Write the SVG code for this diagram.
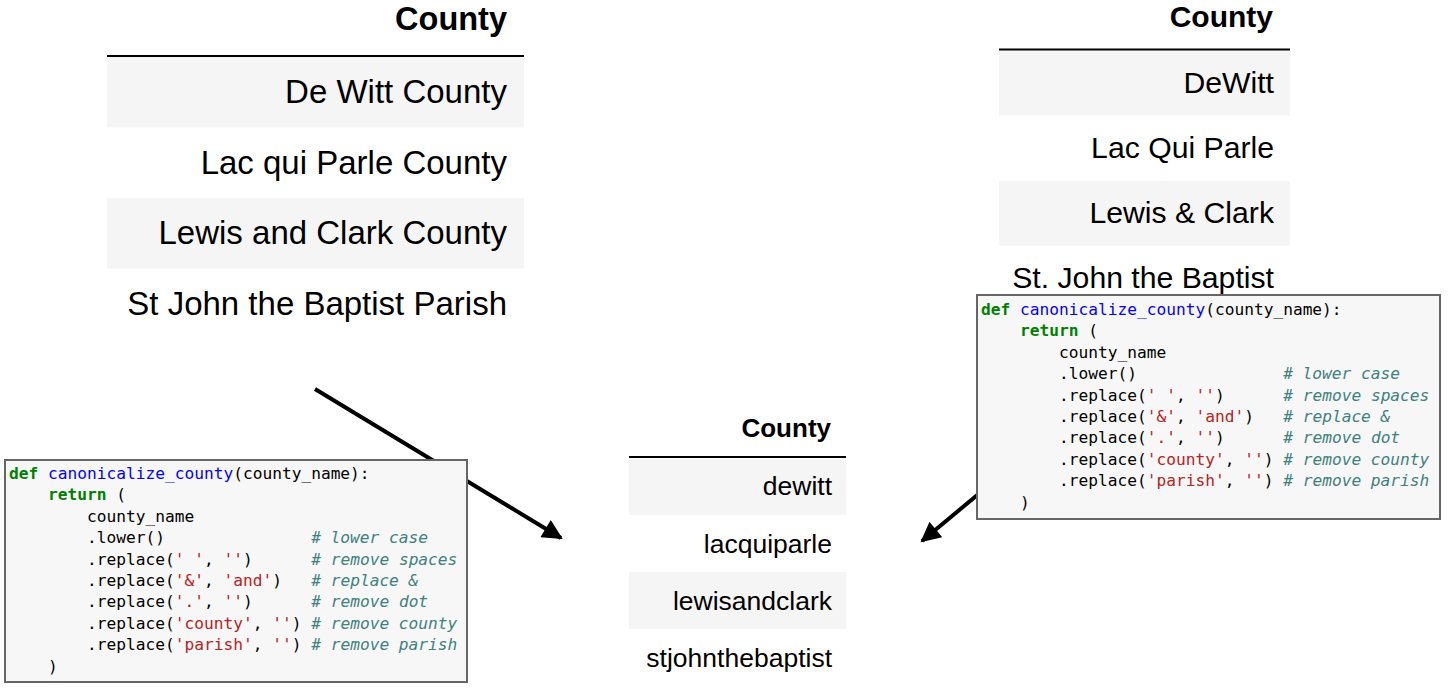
<svg xmlns="http://www.w3.org/2000/svg" width="1448" height="688" viewBox="0 0 1448 688">
<defs>
<style>
.t{font-family:"Liberation Sans",Arial,sans-serif;fill:#000;text-anchor:end}
.b{font-weight:bold}
.row{fill:#f5f5f5}
.hl{stroke:#000;stroke-width:2}
.code{font-family:"DejaVu Sans Mono","Liberation Mono",monospace;font-size:16.2px;fill:#000}
.kw{fill:#008000;font-weight:bold}
.fn{fill:#0000ff}
.st{fill:#ba2121}
.cm{fill:#408080;font-style:italic}
.box{fill:#f7f7f7;stroke:#666;stroke-width:2}
.arr{stroke:#000;stroke-width:4;fill:none}
</style>
<marker id="ah" viewBox="0 0 10 10" refX="9" refY="5" markerWidth="5.5" markerHeight="5" orient="auto" markerUnits="strokeWidth">
<path d="M0,0 L10,5 L0,10 z" fill="#000"/>
</marker>
</defs>
<rect width="1448" height="688" fill="#fff"/>

<g id="connectors">
<line class="arr" x1="315" y1="389" x2="561" y2="538" marker-end="url(#ah)"/>
<line class="arr" x1="1005" y1="472" x2="922" y2="541" marker-end="url(#ah)"/>
</g>

<g id="table-original">
<text class="t b" x="507" y="30" font-size="32.5">County</text>
<rect class="row" x="107" y="57" width="417" height="70.5"/>
<rect class="row" x="107" y="198" width="417" height="70.5"/>
<line class="hl" x1="107" y1="56" x2="524" y2="56"/>
<text class="t" x="507" y="103" font-size="33">De Witt County</text>
<text class="t" x="507" y="174" font-size="33">Lac qui Parle County</text>
<text class="t" x="507" y="244" font-size="33">Lewis and Clark County</text>
<text class="t" x="507" y="315" font-size="33">St John the Baptist Parish</text>
</g>

<g id="table-other">
<text class="t b" x="1273" y="27" font-size="30">County</text>
<rect class="row" x="999" y="51" width="291" height="64.5"/>
<rect class="row" x="999" y="181" width="291" height="64.5"/>
<line class="hl" x1="999" y1="49.5" x2="1290" y2="49.5"/>
<text class="t" x="1274" y="93" font-size="30.2">DeWitt</text>
<text class="t" x="1274" y="158" font-size="30.2">Lac Qui Parle</text>
<text class="t" x="1274" y="223" font-size="30.2">Lewis &amp; Clark</text>
<text class="t" x="1274" y="288" font-size="30.2">St. John the Baptist</text>
</g>

<g id="table-canonical">
<text class="t b" x="831" y="437" font-size="26">County</text>
<rect class="row" x="629" y="459" width="217" height="56"/>
<rect class="row" x="629" y="572" width="217" height="57"/>
<line class="hl" x1="629" y1="457" x2="846" y2="457"/>
<text class="t" x="832" y="495" font-size="26.5">dewitt</text>
<text class="t" x="832" y="553" font-size="26.5">lacquiparle</text>
<text class="t" x="832" y="610" font-size="26.5">lewisandclark</text>
<text class="t" x="832" y="667" font-size="26.5">stjohnthebaptist</text>
</g>

<g id="code-left">
<rect class="box" x="5" y="460" width="462" height="222"/>
<text class="code" xml:space="preserve" x="9" y="479"><tspan class="kw">def</tspan> <tspan class="fn">canonicalize_county</tspan>(county_name):</text>
<text class="code" xml:space="preserve" x="9" y="500.4">    <tspan class="kw">return</tspan> (</text>
<text class="code" xml:space="preserve" x="9" y="521.8">        county_name</text>
<text class="code" xml:space="preserve" x="9" y="543.2">        .lower()               <tspan class="cm"># lower case</tspan></text>
<text class="code" xml:space="preserve" x="9" y="564.6">        .replace(<tspan class="st">' '</tspan>, <tspan class="st">''</tspan>)      <tspan class="cm"># remove spaces</tspan></text>
<text class="code" xml:space="preserve" x="9" y="586">        .replace(<tspan class="st">'&amp;'</tspan>, <tspan class="st">'and'</tspan>)   <tspan class="cm"># replace &amp;</tspan></text>
<text class="code" xml:space="preserve" x="9" y="607.4">        .replace(<tspan class="st">'.'</tspan>, <tspan class="st">''</tspan>)      <tspan class="cm"># remove dot</tspan></text>
<text class="code" xml:space="preserve" x="9" y="628.8">        .replace(<tspan class="st">'county'</tspan>, <tspan class="st">''</tspan>) <tspan class="cm"># remove county</tspan></text>
<text class="code" xml:space="preserve" x="9" y="650.2">        .replace(<tspan class="st">'parish'</tspan>, <tspan class="st">''</tspan>) <tspan class="cm"># remove parish</tspan></text>
<text class="code" xml:space="preserve" x="9" y="671.6">    )</text>
</g>

<g id="code-right">
<rect class="box" x="977" y="295" width="463" height="224"/>
<text class="code" xml:space="preserve" x="981" y="315"><tspan class="kw">def</tspan> <tspan class="fn">canonicalize_county</tspan>(county_name):</text>
<text class="code" xml:space="preserve" x="981" y="336.4">    <tspan class="kw">return</tspan> (</text>
<text class="code" xml:space="preserve" x="981" y="357.8">        county_name</text>
<text class="code" xml:space="preserve" x="981" y="379.2">        .lower()               <tspan class="cm"># lower case</tspan></text>
<text class="code" xml:space="preserve" x="981" y="400.6">        .replace(<tspan class="st">' '</tspan>, <tspan class="st">''</tspan>)      <tspan class="cm"># remove spaces</tspan></text>
<text class="code" xml:space="preserve" x="981" y="422">        .replace(<tspan class="st">'&amp;'</tspan>, <tspan class="st">'and'</tspan>)   <tspan class="cm"># replace &amp;</tspan></text>
<text class="code" xml:space="preserve" x="981" y="443.4">        .replace(<tspan class="st">'.'</tspan>, <tspan class="st">''</tspan>)      <tspan class="cm"># remove dot</tspan></text>
<text class="code" xml:space="preserve" x="981" y="464.8">        .replace(<tspan class="st">'county'</tspan>, <tspan class="st">''</tspan>) <tspan class="cm"># remove county</tspan></text>
<text class="code" xml:space="preserve" x="981" y="486.2">        .replace(<tspan class="st">'parish'</tspan>, <tspan class="st">''</tspan>) <tspan class="cm"># remove parish</tspan></text>
<text class="code" xml:space="preserve" x="981" y="507.6">    )</text>
</g>
</svg>
